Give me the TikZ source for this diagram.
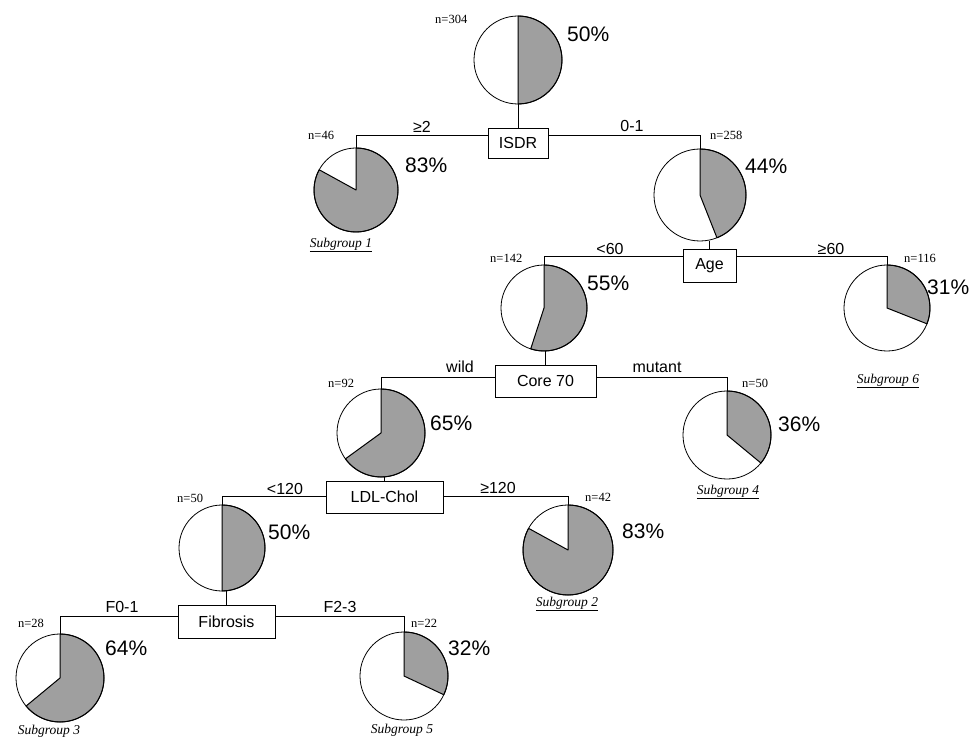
\documentclass[tikz,border=0pt]{standalone}
\usepackage{fontspec}
\setmainfont{Liberation Serif}
\newfontfamily\sansf{Liberation Sans}
\usetikzlibrary{calc}
\newcommand\mypie[5]{%
  \node[piec, minimum size={2*#4pt}] (#1) at (#2,-#3) {};
  \fill[pieshade] (#1.center) -- ++(90:#4) arc[start angle=90, end angle={90-3.6*#5}, radius=#4] -- cycle;
  \draw[line width=0.8pt] (#1.center) circle[radius=#4];
  \draw[line width=1pt, line join=round] (#1.center) -- ++(90:#4) arc[start angle=90, end angle={90-3.6*#5}, radius=#4] -- cycle;
}
\begin{document}
\begin{tikzpicture}[x=1pt,y=1pt,
  box/.style={draw, line width=0.8pt, inner sep=0pt, fill=white, font=\sansf\fontsize{16}{16}\selectfont},
  conn/.style={line width=0.9pt},
  pct/.style={font=\sansf\fontsize{21}{21}\selectfont, anchor=west, inner sep=0pt},
  nlab/.style={font=\fontsize{12.5}{12.5}\selectfont, anchor=west, inner sep=0pt},
  elab/.style={font=\sansf\fontsize{16}{16}\selectfont, inner sep=0pt},
  sublab/.style={font=\itshape\fontsize{13.5}{13.5}\selectfont, inner sep=0pt},
  piec/.style={circle, inner sep=0pt, outer sep=0pt},
  pieshade/.style={fill=gray!75},
]
\useasboundingbox (0,0) rectangle (970,-738);

% pies
\mypie{p304}{518}{60}{44}{50}
\mypie{p46}{356}{190}{42}{83}
\mypie{p258}{700}{195}{46}{44}
\mypie{p142}{544}{308}{43}{55}
\mypie{p116}{887}{308}{43}{31}
\mypie{p92}{381}{433}{44}{65}
\mypie{p50m}{727}{435}{44}{36}
\mypie{p50l}{222}{548}{43}{50}
\mypie{p42}{568}{550}{45}{83}
\mypie{p28}{60}{678}{44}{64}
\mypie{p22}{404}{676}{44}{32}

% split boxes
\node[box, minimum width=60, minimum height=30] (isdr) at (518,-143) {ISDR};
\node[box, minimum width=53, minimum height=33] (age) at (709.5,-265.5) {Age};
\node[box, minimum width=101, minimum height=32] (core) at (545.5,-381) {Core 70};
\node[box, minimum width=117, minimum height=32] (ldl) at (384.5,-497) {LDL-Chol};
\node[box, minimum width=97, minimum height=33] (fib) at (226.5,-621.5) {Fibrosis};

% connectors
\draw[conn] (p304.south) -- (isdr.north);
\draw[conn] ($(isdr.north west)!0.27!(isdr.south west)$) -| (p46.north);
\draw[conn] ($(isdr.north east)!0.27!(isdr.south east)$) -| (p258.north);

\draw[conn] (age.north) -- (age.north |- p258.south);
\draw[conn] ($(age.north west)!0.24!(age.south west)$) -| (p142.north);
\draw[conn] ($(age.north east)!0.24!(age.south east)$) -| (p116.north);

\draw[conn] (core.north) -- (core.north |- p142.south);
\draw[conn] ($(core.north west)!0.4!(core.south west)$) -| (p92.north);
\draw[conn] ($(core.north east)!0.4!(core.south east)$) -| (p50m.north);

\draw[conn] (ldl.north) -- (ldl.north |- p92.south);
\draw[conn] ($(ldl.north west)!0.47!(ldl.south west)$) -| (p50l.north);
\draw[conn] ($(ldl.north east)!0.47!(ldl.south east)$) -| (p42.north);

\draw[conn] (fib.north) -- (fib.north |- p50l.south);
\draw[conn] ($(fib.north west)!0.36!(fib.south west)$) -| (p28.north);
\draw[conn] ($(fib.north east)!0.36!(fib.south east)$) -| (p22.north);

% percentages
\node[pct] (t304) at (567,-34) {50\%};
\node[pct] (t46) at (405,-165) {83\%};
\node[pct] (t258) at (745,-166) {44\%};
\node[pct] (t142) at (587,-283) {55\%};
\node[pct] (t116) at (927,-287) {31\%};
\node[pct] (t92) at (430,-423) {65\%};
\node[pct] (t50m) at (778,-424) {36\%};
\node[pct] (t50l) at (268,-532) {50\%};
\node[pct] (t42) at (622,-531) {83\%};
\node[pct] (t28) at (105,-648) {64\%};
\node[pct] (t22) at (448,-648) {32\%};

% n labels
\node[nlab] (n304) at (435,-19) {n=304};
\node[nlab] (n46) at (308,-135) {n=46};
\node[nlab] (n258) at (710,-135) {n=258};
\node[nlab] (n142) at (490,-258) {n=142};
\node[nlab] (n116) at (904,-258) {n=116};
\node[nlab] (n92) at (328,-383) {n=92};
\node[nlab] (n50m) at (742,-383) {n=50};
\node[nlab] (n50l) at (177,-498) {n=50};
\node[nlab] (n42) at (585,-497) {n=42};
\node[nlab] (n28) at (18,-623) {n=28};
\node[nlab] (n22) at (411,-623) {n=22};

% edge labels
\node[elab] (e1) at (422,-127) {≥2};
\node[elab] (e2) at (632,-126) {0-1};
\node[elab] (e3) at (610,-249) {<60};
\node[elab] (e4) at (831,-249) {≥60};
\node[elab] (e5) at (460,-367) {wild};
\node[elab] (e6) at (657,-367) {mutant};
\node[elab] (e7) at (285,-489) {<120};
\node[elab] (e8) at (498,-488) {≥120};
\node[elab] (e9) at (122,-607) {F0-1};
\node[elab] (e10) at (340,-607) {F2-3};

% subgroup labels
\node[sublab] (s1) at (341,-245) {\underline{Subgroup 1}};
\node[sublab] (s6) at (888,-381) {\underline{Subgroup 6}};
\node[sublab] (s4) at (728,-492) {\underline{Subgroup 4}};
\node[sublab] (s2) at (567,-604) {\underline{Subgroup 2}};
\node[sublab] (s3) at (49,-731) {Subgroup 3};
\node[sublab] (s5) at (402,-730) {Subgroup 5};
\end{tikzpicture}
\end{document}
